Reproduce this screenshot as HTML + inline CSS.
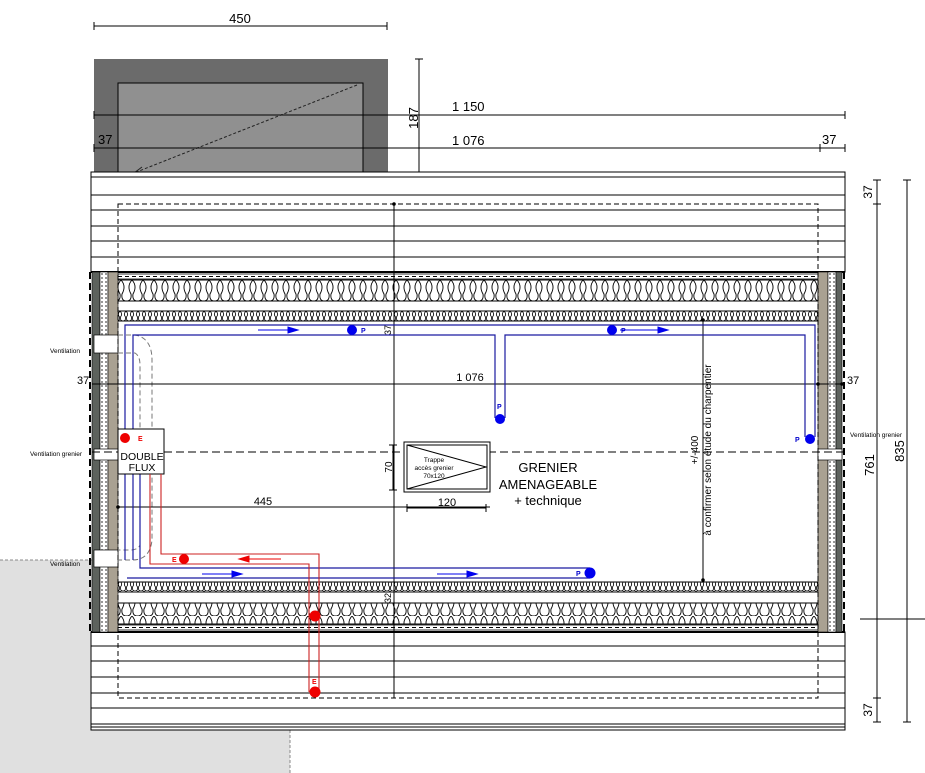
<!DOCTYPE html>
<html><head><meta charset="utf-8"><style>
html,body{margin:0;padding:0;background:#fff;}
svg{display:block;font-family:"Liberation Sans",sans-serif;}
</style></head><body>
<svg width="925" height="773" viewBox="0 0 925 773" xmlns="http://www.w3.org/2000/svg">
<defs>
<pattern id="big" x="0" y="280" width="11" height="21" patternUnits="userSpaceOnUse">
<path d="M0,0 Q5.5,6 1,14 Q0,21 5.5,21 Q11,21 10,14 Q5.5,6 11,0" fill="none" stroke="#000" stroke-width="0.9"/>
</pattern>
<pattern id="small" x="0" y="311" width="6" height="10" patternUnits="userSpaceOnUse">
<path d="M0,0 Q3,3 0.5,6 Q0,10 3,10 Q6,10 5.5,6 Q3,3 6,0" fill="none" stroke="#000" stroke-width="0.8"/>
</pattern>
<pattern id="dots" width="4" height="4" patternUnits="userSpaceOnUse">
<rect width="4" height="4" fill="#fff"/><circle cx="2" cy="2" r="1" fill="#777"/>
</pattern>
</defs>

<!-- grey ground -->
<rect x="0" y="560" width="92" height="213" fill="#e0e0e0"/>
<rect x="0" y="730" width="290" height="43" fill="#e0e0e0"/>
<line x1="0" y1="560" x2="92" y2="560" stroke="#888" stroke-dasharray="3,2"/>
<line x1="290" y1="730" x2="290" y2="773" stroke="#888" stroke-dasharray="3,2"/>

<!-- garage -->
<rect x="94" y="59" width="294" height="113" fill="#6b6b6b"/>
<rect x="118" y="83" width="245" height="89" fill="#909090" stroke="#000"/>
<line x1="357" y1="85" x2="134" y2="173" stroke="#222" stroke-dasharray="3,2"/>
<path d="M134,173 l8,-6 M134,173 l10,-1" stroke="#222"/>

<!-- top dims -->
<g stroke="#000" stroke-width="1">
<line x1="94" y1="26" x2="387" y2="26"/><path d="M94,22v8M387,22v8"/>
<line x1="419" y1="59" x2="419" y2="177"/><path d="M415,59h8"/>
<line x1="94" y1="115" x2="845" y2="115"/><path d="M845,111v8M94,111v8"/>
<line x1="94" y1="148" x2="845" y2="148"/><path d="M118,144v8M820,144v8M845,144v8M94,144v8"/>
</g>
<g font-size="13" fill="#000">
<text x="240" y="23" text-anchor="middle">450</text>
<text x="452" y="111">1 150</text>
<text x="452" y="145">1 076</text>
<text x="98" y="144">37</text>
<text x="822" y="144">37</text>
<text transform="translate(418,118) rotate(-90)" text-anchor="middle">187</text>
</g>

<!-- top planks -->
<rect x="91" y="172" width="754" height="100" fill="#fff" stroke="#000"/>
<g stroke="#000">
<line x1="91" y1="177" x2="845" y2="177"/>
<line x1="91" y1="195" x2="845" y2="195"/>
<line x1="91" y1="210" x2="845" y2="210"/>
<line x1="91" y1="226" x2="845" y2="226"/>
<line x1="91" y1="241" x2="845" y2="241"/>
<line x1="91" y1="257" x2="845" y2="257"/>
</g>
<line x1="91" y1="272" x2="845" y2="272" stroke="#000" stroke-width="2"/>
<!-- bottom planks -->
<rect x="91" y="632" width="754" height="98" fill="#fff" stroke="#000"/>
<g stroke="#000">
<line x1="91" y1="646" x2="845" y2="646"/>
<line x1="91" y1="661" x2="845" y2="661"/>
<line x1="91" y1="677" x2="845" y2="677"/>
<line x1="91" y1="693" x2="845" y2="693"/>
<line x1="91" y1="708" x2="845" y2="708"/>
<line x1="91" y1="724" x2="845" y2="724"/>
<line x1="91" y1="727" x2="845" y2="727"/>
</g>
<line x1="91" y1="632" x2="845" y2="632" stroke="#000" stroke-width="2"/>

<!-- insulation top -->
<rect x="118" y="274" width="700" height="5" fill="#fff" stroke="#000" stroke-width="0.8"/>
<line x1="118" y1="276.5" x2="818" y2="276.5" stroke="#000" stroke-dasharray="4,3"/>
<rect x="118" y="280" width="700" height="21" fill="url(#big)" stroke="#000"/>
<rect x="118" y="311" width="700" height="10" fill="url(#small)" stroke="#000"/>
<!-- insulation bottom -->
<rect x="118" y="582" width="700" height="10" fill="url(#small)" stroke="#000"/>
<rect x="118" y="603" width="700" height="21" fill="url(#big)" stroke="#000"/>
<rect x="118" y="625" width="700" height="5" fill="#fff" stroke="#000" stroke-width="0.8"/>
<line x1="118" y1="627.5" x2="818" y2="627.5" stroke="#000" stroke-dasharray="4,3"/>

<!-- walls -->
<rect x="92" y="272" width="8" height="360" fill="#5d625d" stroke="#000" stroke-width="0.6"/>
<rect x="100" y="272" width="8" height="360" fill="url(#dots)" stroke="#000" stroke-width="0.6"/>
<rect x="108" y="272" width="10" height="360" fill="#a9a192" stroke="#000" stroke-width="0.6"/>
<rect x="818" y="272" width="10" height="360" fill="#a9a192" stroke="#000" stroke-width="0.6"/>
<rect x="828" y="272" width="8" height="360" fill="url(#dots)" stroke="#000" stroke-width="0.6"/>
<rect x="836" y="272" width="6" height="360" fill="#5d625d" stroke="#000" stroke-width="0.6"/>
<line x1="90" y1="272" x2="90" y2="632" stroke="#000" stroke-width="2" stroke-dasharray="7,4"/>
<line x1="844" y1="272" x2="844" y2="632" stroke="#000" stroke-width="2" stroke-dasharray="7,4"/>
<!-- vent openings -->
<g fill="#fff" stroke="#000" stroke-width="0.7">
<rect x="94" y="335" width="24" height="18"/>
<rect x="94" y="449" width="24" height="11"/>
<rect x="94" y="550" width="24" height="17"/>
<rect x="818" y="449" width="24" height="11"/>
</g>

<!-- dashed rect -->
<rect x="118" y="204" width="700" height="494" fill="none" stroke="#000" stroke-dasharray="5,3"/>
<!-- gray dashed duct -->
<path d="M118,335 H135 Q152,338 152,360 V540 Q150,560 132,560 H118" fill="none" stroke="#777" stroke-dasharray="5,3"/>
<path d="M118,353 H135 Q140,356 140,365 V545 Q138,550 130,550 H118" fill="none" stroke="#777" stroke-dasharray="5,3"/>

<!-- center lines & dims -->
<line x1="92" y1="452" x2="845" y2="452" stroke="#000" stroke-dasharray="8,4"/>
<g stroke="#000">
<line x1="394" y1="204" x2="394" y2="698"/>
<line x1="92" y1="384" x2="845" y2="384"/>
<line x1="118" y1="507" x2="490" y2="507"/>
<line x1="703" y1="320" x2="703" y2="580"/>
<line x1="877" y1="180" x2="877" y2="722"/>
<path d="M873,180h8M873,204h8M873,698h8M873,722h8"/>
<line x1="907" y1="180" x2="907" y2="722"/>
<path d="M903,180h8M903,722h8"/>
<line x1="860" y1="619" x2="925" y2="619"/>
<line x1="393" y1="445" x2="393" y2="490"/>
<path d="M389,445h8M389,490h8"/>
<line x1="407" y1="508" x2="486" y2="508"/>
<path d="M407,504v8M486,504v8"/>
</g>
<g fill="#000"><circle cx="394" cy="204" r="1.8"/><circle cx="118" cy="507" r="1.8"/><circle cx="703" cy="320" r="1.8"/><circle cx="703" cy="580" r="1.8"/><circle cx="818" cy="384" r="1.8"/><circle cx="842" cy="384" r="1.8"/></g>

<g font-size="11" fill="#000">
<text x="470" y="381" text-anchor="middle">1 076</text>
<text x="77" y="384">37</text>
<text x="847" y="384">37</text>
<text x="263" y="505" text-anchor="middle">445</text>
<text x="447" y="506" text-anchor="middle">120</text>
<text transform="translate(392,467) rotate(-90)" text-anchor="middle" font-size="10">70</text>
<text transform="translate(872,192) rotate(-90)" text-anchor="middle" font-size="12">37</text>
<text transform="translate(872,710) rotate(-90)" text-anchor="middle" font-size="12">37</text>
<text transform="translate(874,465) rotate(-90)" text-anchor="middle" font-size="13">761</text>
<text transform="translate(904,451) rotate(-90)" text-anchor="middle" font-size="13">835</text>
<text transform="translate(698,450) rotate(-90)" text-anchor="middle" font-size="10">+/-400</text>
<text transform="translate(711,450) rotate(-90)" text-anchor="middle" font-size="10">à confirmer selon étude du charpentier</text>
<text transform="translate(391,330) rotate(-90)" text-anchor="middle" font-size="9">37</text>
<text transform="translate(391,598) rotate(-90)" text-anchor="middle" font-size="9">32</text>
</g>
<g font-size="6.5" fill="#000">
<text x="50" y="353">Ventilation</text>
<text x="30" y="456">Ventilation grenier</text>
<text x="50" y="566">Ventilation</text>
<text x="850" y="437">Ventilation grenier</text>
</g>

<!-- trappe -->
<rect x="404" y="442" width="86" height="50" fill="#fff" stroke="#000"/>
<rect x="407" y="445" width="80" height="44" fill="none" stroke="#000"/>
<path d="M407,445 L486,467 L407,489" fill="none" stroke="#000"/>
<g font-size="6.5" text-anchor="middle"><text x="434" y="462">Trappe</text><text x="434" y="470">accès grenier</text><text x="434" y="478">70x120</text></g>
<g font-size="13" text-anchor="middle"><text x="548" y="472">GRENIER</text><text x="548" y="489">AMENAGEABLE</text><text x="548" y="505">+ technique</text></g>

<!-- blue ducts -->
<g fill="none" stroke="#1a1aa0" stroke-width="1.2">
<path d="M125,560 V325 H815 V437"/>
<path d="M133,560 V335 H495 V418"/>
<path d="M505,418 V335 H805 V437"/>
<path d="M127,578 H590"/>
<path d="M140,460 V568 H590"/>
</g>
<g fill="#0000ee">
<circle cx="352" cy="330" r="5"/><circle cx="612" cy="330" r="5"/>
<circle cx="500" cy="419" r="5"/><circle cx="810" cy="439" r="5"/>
<circle cx="590" cy="573" r="5.5"/>
<path d="M258,330 h30 v-3 l10,3 l-10,3 v-3z" stroke="#0000ee"/>
<path d="M620,330 h38 v-3 l10,3 l-10,3 v-3z" stroke="#0000ee"/>
<path d="M202,574 h30 v-3 l10,3 l-10,3 v-3z" stroke="#0000ee"/>
<path d="M437,574 h30 v-3 l10,3 l-10,3 v-3z" stroke="#0000ee"/>
</g>
<g font-size="7" fill="#0000cc" font-weight="bold">
<text x="361" y="333">P</text><text x="621" y="333">P</text><text x="497" y="409">P</text><text x="795" y="442">P</text><text x="576" y="576">P</text>
</g>

<!-- double flux -->
<rect x="118" y="429" width="46" height="45" fill="#fff" stroke="#000"/>
<g font-size="10.5" text-anchor="middle"><text x="142" y="460">DOUBLE</text><text x="142" y="471">FLUX</text></g>

<!-- red ducts -->
<g fill="none" stroke="#cc2222" stroke-width="1.1">
<path d="M150,474 V564 H309 V692"/>
<path d="M161,474 V554 H319 V692"/>
</g>
<g fill="#ee0000">
<circle cx="125" cy="438" r="5"/><circle cx="184" cy="559" r="5"/>
<circle cx="315" cy="616" r="5.5"/><circle cx="315" cy="692" r="5.5"/>
<path d="M281,559 h-32 v-3 l-10,3 l10,3 v-3z" stroke="#ee0000"/>
</g>
<g font-size="7" fill="#ee0000" font-weight="bold">
<text x="138" y="441">E</text><text x="172" y="562">E</text><text x="312" y="684">E</text>
</g>
</svg>
</body></html>
